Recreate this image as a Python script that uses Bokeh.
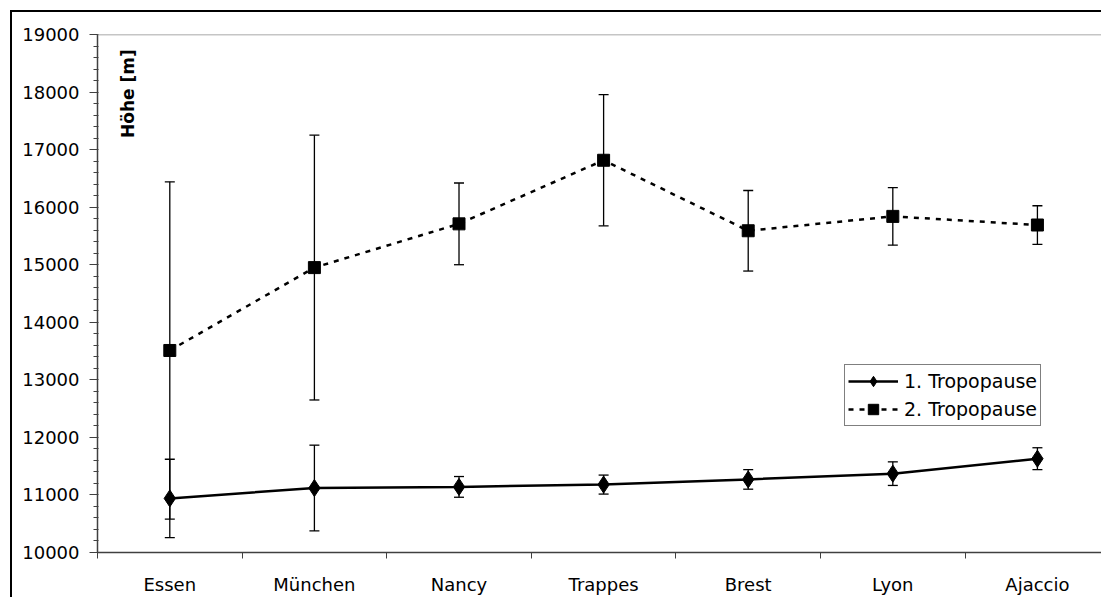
import numpy as np
from bokeh.plotting import figure
from bokeh.models import (Range1d, FixedTicker, Whisker, ColumnDataSource, Label,
                          Span, TeeHead, NumeralTickFormatter)
from bokeh.embed import file_html
from bokeh.resources import INLINE

# ---- data ----
cats = ["Essen", "München", "Nancy", "Trappes", "Brest", "Lyon", "Ajaccio"]
tp1 = [10940, 11120, 11140, 11180, 11270, 11370, 11630]
tp1_err = [680, 745, 180, 165, 170, 205, 190]
tp2 = [13510, 14950, 15710, 16815, 15590, 15840, 15690]
tp2_err = [2930, 2300, 710, 1140, 700, 500, 335]
y_ticks = list(range(10000, 19001, 1000))
y_minor = list(range(10000, 19001, 200))
label1 = "1. Tropopause"
label2 = "2. Tropopause"
y_title = "Höhe [m]"

FONT = "DejaVu Sans"

xs = [i + 0.5 for i in range(len(cats))]
src1 = ColumnDataSource(dict(x=xs, y=tp1,
                             up=[v + e for v, e in zip(tp1, tp1_err)],
                             lo=[v - e for v, e in zip(tp1, tp1_err)]))
src2 = ColumnDataSource(dict(x=xs, y=tp2,
                             up=[v + e for v, e in zip(tp2, tp2_err)],
                             lo=[v - e for v, e in zip(tp2, tp2_err)]))

p = figure(width=1091, height=587,
           x_range=Range1d(0, 6.957), y_range=Range1d(10000, 19000),
           output_backend="svg", toolbar_location=None,
           min_border_left=85, min_border_top=22, min_border_bottom=47,
           min_border_right=0,
           styles={"border-left": "2px solid black", "border-top": "2px solid black",
                   "margin-left": "10px", "margin-top": "10px"})
p.outline_line_color = None
p.xgrid.visible = False
p.ygrid.visible = False
p.background_fill_color = "white"
p.border_fill_color = "white"

# top line of plot area
p.add_layout(Span(location=19000, dimension="width", line_color="#8c8c8c", line_width=1.5))

# axes
ax = p.yaxis[0]
ax.ticker = FixedTicker(ticks=y_ticks, minor_ticks=y_minor)
ax.formatter = NumeralTickFormatter(format="0")
ax.axis_line_color = "#404040"
ax.axis_line_width = 1.5
ax.major_tick_line_color = "#404040"
ax.minor_tick_line_color = "#404040"
ax.major_tick_out = 8
ax.major_tick_in = 0
ax.minor_tick_out = 4
ax.minor_tick_in = 1
ax.major_label_standoff = 10
ax.major_label_text_font = FONT
ax.major_label_text_font_size = "18px"
ax.major_label_text_color = "black"

bx = p.xaxis[0]
bx.ticker = FixedTicker(ticks=xs, minor_ticks=list(range(len(cats) + 1)))
bx.major_label_overrides = {x: c for x, c in zip(xs, cats)}
bx.axis_line_color = "#404040"
bx.axis_line_width = 1.5
bx.major_tick_out = 0
bx.major_tick_in = 0
bx.minor_tick_line_color = "#404040"
bx.minor_tick_out = 6
bx.minor_tick_in = 0
bx.major_label_standoff = 15
bx.major_label_text_font = FONT
bx.major_label_text_font_size = "18px"
bx.major_label_text_color = "black"

# error bars
for src in (src1, src2):
    w = Whisker(base="x", upper="up", lower="lo", source=src,
                line_color="black", line_width=1.3,
                upper_head=TeeHead(size=10, line_color="black", line_width=1.3),
                lower_head=TeeHead(size=10, line_color="black", line_width=1.3))
    p.add_layout(w)

# series
p.line("x", "y", source=src1, line_color="black", line_width=2.5, legend_label=label1)
p.scatter("x", "y", source=src1, marker="diamond", size=17,
          fill_color="black", line_color="black", legend_label=label1)
p.line("x", "y", source=src2, line_color="black", line_width=2.5, line_dash="5 6",
       legend_label=label2)
p.scatter("x", "y", source=src2, marker="square", size=12,
          fill_color="black", line_color="black", legend_label=label2)

# y title inside the plot
p.add_layout(Label(x=0.2075, y=17974, text=y_title, angle=np.pi / 2,
                   text_align="center", text_baseline="alphabetic",
                   text_font=FONT, text_font_style="bold", text_font_size="17px",
                   text_color="black"))

lg = p.legend[0]
lg.location = (747, 126)
lg.border_line_color = "black"
lg.border_line_width = 1
lg.background_fill_color = "white"
lg.background_fill_alpha = 1
lg.label_text_font = FONT
lg.label_text_font_size = "19px"
lg.label_text_color = "black"
lg.glyph_width = 50
lg.glyph_height = 26
lg.label_height = 26
lg.label_standoff = 6
lg.padding = 3
lg.spacing = 2
lg.margin = 0

open("out.html", "w").write(file_html(p, INLINE))
